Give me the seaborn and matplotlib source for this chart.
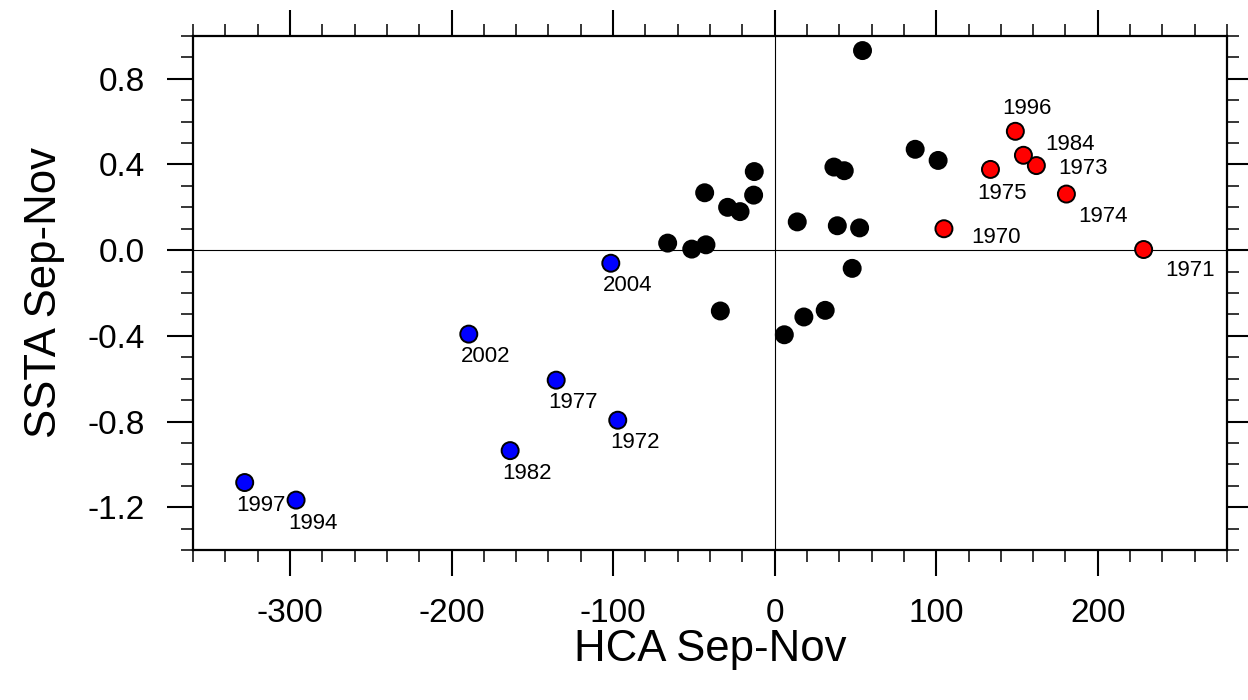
import matplotlib
matplotlib.use("Agg")
import matplotlib.pyplot as plt
import seaborn as sns
import numpy as np
import pandas as pd
from matplotlib.ticker import MultipleLocator, FixedLocator

# ---------------- data ----------------
red_years = ["1970", "1971", "1973", "1974", "1975", "1984", "1996"]
red_hca = [104.8, 228.4, 162.0, 180.6, 133.6, 154.0, 149.0]
red_ssta = [0.100, 0.003, 0.395, 0.262, 0.377, 0.443, 0.555]

blue_years = ["1972", "1977", "1982", "1994", "1997", "2002", "2004"]
blue_hca = [-97.1, -135.2, -163.7, -296.2, -328.0, -189.3, -101.4]
blue_ssta = [-0.794, -0.607, -0.936, -1.167, -1.085, -0.392, -0.061]

black_hca = [54.4, 87.0, 101.2, 36.7, 43.1, -12.6, -43.3, -13.0, -29.1, -21.4,
             14.0, 38.8, 52.6, -66.2, -51.3, -42.5, 48.0, -33.6, 31.3, 18.1, 6.0]
black_ssta = [0.932, 0.471, 0.419, 0.388, 0.371, 0.367, 0.268, 0.257, 0.200, 0.180,
              0.132, 0.114, 0.104, 0.033, 0.005, 0.025, -0.085, -0.284, -0.281, -0.312, -0.395]

x_ticks = [-300, -200, -100, 0, 100, 200]
y_ticks = [-1.2, -0.8, -0.4, 0.0, 0.4, 0.8]
x_label = "HCA Sep-Nov"
y_label = "SSTA Sep-Nov"

# label placement (pixel offsets from point), styling only
label_offsets = {
    "1996": (12, 23), "1984": (47, 11), "1973": (47, -3), "1975": (12, -24),
    "1974": (37, -22), "1970": (52, -9), "1971": (46, -21),
    "1972": (17, -22), "1977": (17, -22), "1982": (17, -23), "1994": (17, -23),
    "1997": (16, -23), "2002": (17, -22), "2004": (17, -22),
}

# ---------------- table ----------------
df = pd.concat([
    pd.DataFrame({"hca": black_hca, "ssta": black_ssta, "group": "neutral", "year": ""}),
    pd.DataFrame({"hca": red_hca, "ssta": red_ssta, "group": "warm", "year": red_years}),
    pd.DataFrame({"hca": blue_hca, "ssta": blue_ssta, "group": "cold", "year": blue_years}),
], ignore_index=True)

sns.set_theme(style="white")
plt.rcParams["font.family"] = ["Liberation Sans", "DejaVu Sans"]
plt.rcParams["axes.unicode_minus"] = False
plt.rcParams["text.color"] = "black"
plt.rcParams["axes.labelcolor"] = "black"
plt.rcParams["xtick.color"] = "black"
plt.rcParams["ytick.color"] = "black"

fig = plt.figure(figsize=(12.48, 7.0), dpi=100)
ax = fig.add_axes([193 / 1248, 1 - 550 / 700, (1227 - 193) / 1248, (550 - 36) / 700])

ax.axhline(0, color="black", lw=0.8, zorder=1)
ax.axvline(0, color="black", lw=0.8, zorder=1)

sns.scatterplot(data=df, x="hca", y="ssta", hue="group",
                palette={"neutral": "black", "warm": "#ff0000", "cold": "#0000ff"},
                s=150, edgecolor="black", linewidth=1.4, legend=False, ax=ax, zorder=3)

for _, r in df[df["year"] != ""].iterrows():
    ax.annotate(r["year"], (r["hca"], r["ssta"]), xytext=label_offsets[r["year"]],
                textcoords="offset pixels", ha="center", va="center",
                fontsize=16, color="black", zorder=4)

ax.set_xlim(-360, 280)
ax.set_ylim(-1.4, 1.0)
ax.xaxis.set_major_locator(FixedLocator(x_ticks))
ax.yaxis.set_major_locator(FixedLocator(y_ticks))
ax.xaxis.set_minor_locator(MultipleLocator(20))
ax.yaxis.set_minor_locator(MultipleLocator(0.1))
ax.set_xticklabels([str(v) for v in x_ticks])
ax.set_yticklabels([f"{v:.1f}" for v in y_ticks])

ax.tick_params(which="both", direction="out", top=True, right=True,
               bottom=True, left=True, color="black", labelcolor="black")
ax.tick_params(which="major", length=18.5, width=1.5, labelsize=24, pad=16)
ax.tick_params(axis="y", which="major", pad=16)
ax.tick_params(which="minor", length=8.5, width=1.1)

for sp in ax.spines.values():
    sp.set_color("black")
    sp.set_linewidth(1.6)

ax.set_xlabel(x_label, fontsize=31.5, labelpad=0, color="black")
ax.set_ylabel(y_label, fontsize=31.5, labelpad=16, color="black")

fig.savefig("out.png", dpi=100, facecolor="white")
